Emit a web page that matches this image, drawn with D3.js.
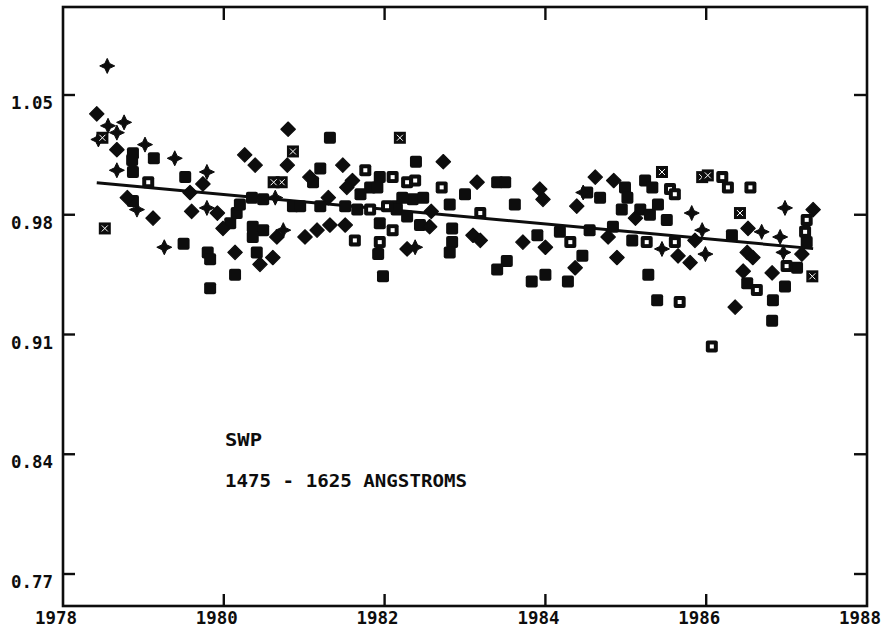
<!DOCTYPE html>
<html><head><meta charset="utf-8">
<script src="https://cdn.jsdelivr.net/npm/d3@7"></script>
<style>html,body{margin:0;padding:0;background:#fff;}svg{display:block;}</style>
</head><body>
<script>
const xTicks = [1980, 1982, 1984, 1986];
const xLabels = ["1978", "1980", "1982", "1984", "1986", "1988"];
const xLabelYears = [1978, 1980, 1982, 1984, 1986, 1988];
const yTicks = [1.05, 0.98, 0.91, 0.84, 0.77];
const yLabels = ["1.05", "0.98", "0.91", "0.84", "0.77"];
const annot1 = "SWP";
const annot2 = "1475 - 1625 ANGSTROMS";

const fitYears = [1978.42, 1987.33];
const fitValues = [0.9987, 0.9602];

const pluses = [[1978.55,1.067],[1978.56,1.032],[1978.76,1.034],[1978.44,1.024],[1978.67,1.028],[1979.02,1.021],[1978.67,1.006],[1979.39,1.013],[1979.79,1.005],[1978.92,0.983],[1979.26,0.961],[1979.79,0.984],[1980.64,0.990],[1980.74,0.971],[1982.38,0.961],[1984.47,0.993],[1985.82,0.981],[1985.95,0.971],[1986.69,0.970],[1985.45,0.960],[1985.99,0.957],[1986.98,0.984],[1986.92,0.967],[1986.96,0.958]];

const diamonds = [[1978.42,1.039],[1978.67,1.018],[1979.74,0.998],[1979.58,0.993],[1978.80,0.990],[1979.12,0.978],[1979.60,0.982],[1979.92,0.981],[1980.14,0.958],[1979.99,0.972],[1980.26,1.015],[1980.39,1.009],[1980.45,0.951],[1980.61,0.955],[1980.66,0.967],[1980.80,1.030],[1980.79,1.009],[1981.07,1.002],[1981.01,0.967],[1981.16,0.971],[1981.32,0.974],[1981.48,1.009],[1981.60,1.000],[1981.53,0.996],[1981.51,0.974],[1982.73,1.011],[1982.56,0.973],[1982.28,0.960],[1983.10,0.968],[1983.19,0.965],[1983.15,0.999],[1983.93,0.995],[1983.97,0.989],[1984.39,0.985],[1983.72,0.964],[1984.00,0.961],[1984.37,0.949],[1984.62,1.002],[1986.52,0.972],[1984.78,0.967],[1985.86,0.965],[1985.65,0.956],[1985.80,0.952],[1984.89,0.955],[1986.51,0.958],[1986.58,0.955],[1986.46,0.947],[1986.82,0.946],[1986.36,0.926],[1987.33,0.983],[1987.19,0.957],[1981.30,0.990],[1982.58,0.982],[1985.12,0.978],[1984.85,1.000]];

const squares = [[1978.87,1.016],[1978.86,1.012],[1979.13,1.013],[1978.87,1.005],[1979.52,1.002],[1978.87,0.988],[1979.50,0.963],[1979.80,0.958],[1979.83,0.954],[1979.83,0.937],[1980.14,0.945],[1980.08,0.975],[1980.16,0.981],[1980.20,0.986],[1980.35,0.990],[1980.49,0.989],[1980.36,0.973],[1980.49,0.971],[1980.36,0.967],[1980.41,0.958],[1980.86,0.985],[1980.95,0.985],[1981.20,1.007],[1981.11,0.999],[1981.20,0.985],[1981.32,1.025],[1981.51,0.985],[1981.66,0.983],[1981.82,0.996],[1981.91,0.996],[1981.94,1.002],[1982.15,0.985],[1981.94,0.975],[1981.92,0.957],[1981.98,0.944],[1982.39,1.011],[1982.35,0.989],[1982.48,0.990],[1982.15,0.983],[1982.28,0.979],[1982.44,0.974],[1982.84,0.972],[1982.84,0.964],[1982.81,0.958],[1983.40,0.999],[1983.50,0.999],[1983.00,0.992],[1982.81,0.986],[1983.62,0.986],[1983.90,0.968],[1984.18,0.970],[1984.46,0.956],[1983.40,0.948],[1983.52,0.953],[1983.83,0.941],[1984.00,0.945],[1984.28,0.941],[1984.52,0.993],[1984.68,0.990],[1984.99,0.996],[1985.02,0.990],[1985.24,1.000],[1985.33,0.996],[1985.18,0.983],[1985.30,0.980],[1985.51,0.977],[1986.32,0.968],[1984.55,0.971],[1984.84,0.973],[1985.08,0.965],[1986.51,0.940],[1986.83,0.930],[1985.28,0.945],[1985.39,0.930],[1986.82,0.918],[1987.25,0.964],[1987.13,0.949],[1986.98,0.938],[1981.70,0.992],[1982.22,0.990],[1985.40,0.986],[1984.95,0.983]];

const openSquares = [[1979.06,0.999],[1981.63,0.965],[1981.76,1.006],[1981.82,0.983],[1982.03,0.985],[1981.94,0.964],[1982.10,1.002],[1982.28,0.999],[1982.38,1.000],[1982.71,0.996],[1982.10,0.971],[1983.19,0.981],[1984.31,0.964],[1986.20,1.002],[1986.27,0.996],[1986.55,0.996],[1985.55,0.995],[1985.61,0.992],[1985.26,0.964],[1985.61,0.964],[1986.63,0.936],[1985.67,0.929],[1986.07,0.903],[1987.25,0.977],[1987.23,0.970],[1987.00,0.950]];

const xSquares = [[1978.49,1.025],[1978.52,0.972],[1980.86,1.017],[1980.72,0.999],[1980.62,0.999],[1982.19,1.025],[1985.45,1.005],[1985.95,1.002],[1986.02,1.003],[1986.42,0.981],[1987.32,0.944]];

const W = 883, H = 633;
const ink = "#0d0d0d";
const font = "'DejaVu Sans Mono', 'Liberation Mono', monospace";
const plot = {left: 63, right: 867, top: 7, bottom: 606};

const x = d3.scaleLinear().domain([1978, 1988]).range([63, 867]);
const y = d3.scaleLinear().domain([0.77, 1.05]).range([574, 95]);

const svg = d3.select("body").append("svg").attr("width", W).attr("height", H);
svg.append("rect").attr("width", W).attr("height", H).attr("fill", "#fff");

// frame
svg.append("rect").attr("x", plot.left).attr("y", plot.top)
  .attr("width", plot.right - plot.left).attr("height", plot.bottom - plot.top)
  .attr("fill", "none").attr("stroke", ink).attr("stroke-width", 2.6);

// ticks (inward) on all four sides
const tg = svg.append("g").attr("stroke", ink).attr("stroke-width", 2.4);
xTicks.forEach(t => {
  tg.append("line").attr("x1", x(t)).attr("x2", x(t)).attr("y1", plot.bottom).attr("y2", plot.bottom - 12);
  tg.append("line").attr("x1", x(t)).attr("x2", x(t)).attr("y1", plot.top).attr("y2", plot.top + 13);
});
yTicks.forEach(t => {
  tg.append("line").attr("x1", plot.left).attr("x2", plot.left + 12).attr("y1", y(t)).attr("y2", y(t));
  tg.append("line").attr("x1", plot.right).attr("x2", plot.right - 13).attr("y1", y(t)).attr("y2", y(t));
});

// tick labels
svg.append("g").selectAll("text").data(xLabelYears).join("text")
  .attr("x", d => x(d) - 7).attr("y", 624)
  .attr("text-anchor", "middle")
  .attr("font-family", font).attr("font-weight", "bold").attr("font-size", 17)
  .attr("textLength", 42).attr("lengthAdjust", "spacingAndGlyphs")
  .attr("fill", ink)
  .text((d, i) => xLabels[i]);

svg.append("g").selectAll("text").data(yTicks).join("text")
  .attr("x", 53).attr("y", d => y(d) + 14)
  .attr("text-anchor", "end")
  .attr("font-family", font).attr("font-weight", "bold").attr("font-size", 17)
  .attr("textLength", 42).attr("lengthAdjust", "spacingAndGlyphs")
  .attr("fill", ink)
  .text((d, i) => yLabels[i]);

// annotations
svg.append("text").attr("x", 225).attr("y", 446)
  .attr("font-family", font).attr("font-weight", "bold").attr("font-size", 17)
  .attr("textLength", 37).attr("lengthAdjust", "spacingAndGlyphs")
  .attr("fill", ink).text(annot1);
svg.append("text").attr("x", 225).attr("y", 487)
  .attr("font-family", font).attr("font-weight", "bold").attr("font-size", 17)
  .attr("textLength", 242).attr("lengthAdjust", "spacingAndGlyphs")
  .attr("fill", ink).text(annot2);

// fit line
const fit = fitYears.map((yr, i) => [yr, fitValues[i]]);
svg.append("path").datum(fit)
  .attr("d", d3.line().x(d => x(d[0])).y(d => y(d[1])))
  .attr("stroke", ink).attr("stroke-width", 3).attr("fill", "none");

const marks = svg.append("g");
const pos = d => `translate(${x(d[0])},${y(d[1])})`;

// squares
marks.selectAll(".sq").data(squares).join("rect").attr("class", "sq")
  .attr("transform", pos).attr("x", -6).attr("y", -6).attr("width", 12).attr("height", 12)
  .attr("rx", 2).attr("fill", ink);

// diamonds
marks.selectAll(".dm").data(diamonds).join("path").attr("class", "dm")
  .attr("transform", pos).attr("d", "M0,-7.2L7.2,0L0,7.2L-7.2,0Z").attr("fill", ink)
  .attr("stroke", ink).attr("stroke-width", 1.2).attr("stroke-linejoin", "round");

// pluses (4-point stars)
marks.selectAll(".pl").data(pluses).join("path").attr("class", "pl")
  .attr("transform", pos).attr("d", "M0,-7.5L2.4,-2.4L7.5,0L2.4,2.4L0,7.5L-2.4,2.4L-7.5,0L-2.4,-2.4Z")
  .attr("fill", ink).attr("stroke", ink).attr("stroke-width", 1);

// open squares
const os = marks.selectAll(".os").data(openSquares).join("g").attr("class", "os").attr("transform", pos);
os.append("rect").attr("x", -6).attr("y", -6).attr("width", 12).attr("height", 12).attr("rx", 2).attr("fill", ink);
os.append("rect").attr("x", -2).attr("y", -2).attr("width", 4).attr("height", 4).attr("fill", "#fff");

// x-squares
const xs = marks.selectAll(".xs").data(xSquares).join("g").attr("class", "xs").attr("transform", pos);
xs.append("rect").attr("x", -6).attr("y", -6).attr("width", 12).attr("height", 12).attr("fill", ink);
xs.append("path").attr("d", "M-3,-3L3,3M3,-3L-3,3").attr("stroke", "#fff").attr("stroke-width", 1);
</script>
</body></html>
